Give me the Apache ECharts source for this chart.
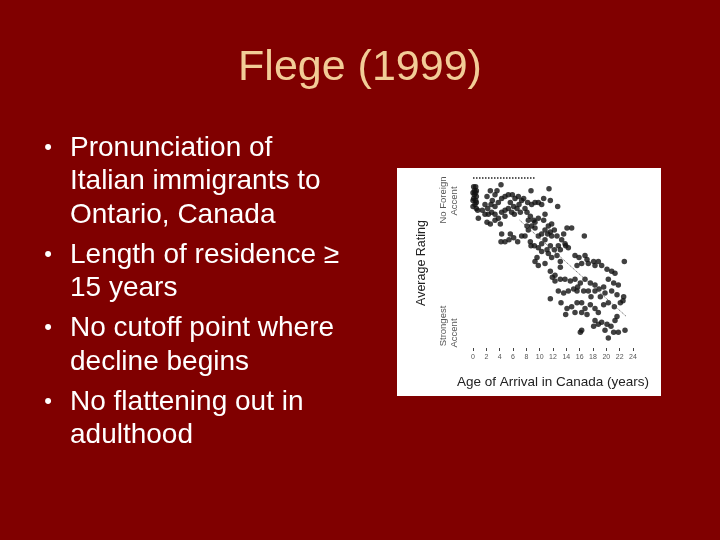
<!DOCTYPE html>
<html>
<head>
<meta charset="utf-8">
<script src="https://cdn.jsdelivr.net/npm/echarts@6/dist/echarts.min.js"></script>
<style>
  html, body { margin: 0; padding: 0; background: #800000; }
  #chart { width: 720px; height: 540px; }
</style>
</head>
<body>
<div id="chart"></div>
<script>
// slide text
var slideTitle = 'Flege (1999)';
var bullets = [
  ['Pronunciation of', 'Italian immigrants to', 'Ontario, Canada'],
  ['Length of residence \u2265', '15 years'],
  ['No cutoff point where', 'decline begins'],
  ['No flattening out in', 'adulthood']
];

// x axis ticks (age of arrival, years)
var ageTicks = [0, 2, 4, 6, 8, 10, 12, 14, 16, 18, 20, 22, 24];

// scatter: age of arrival vs average rating
var ages = [
  0.1, 0.4, 0.2, 0.5, 0.0, 0.4, 0.2, 0.5, 0.1, 0.4, 0.0, 0.5, 0.3, 0.5, 0.0, 0.7, 0.8,
  2.1, 2.6, 3.3, 4.2, 3.6, 2.9, 1.8, 2.2, 2.7, 3.3, 3.8, 4.3, 4.8, 5.3, 5.9, 6.3, 6.8, 7.3, 7.6,
  8.7, 8.2, 8.8, 9.3, 9.8, 10.3, 10.6, 11.4, 11.6, 12.7,
  2.1, 2.6, 3.3, 3.8, 4.3, 4.8, 5.3, 5.8, 6.1, 6.6, 7.1, 3.3, 4.1, 2.8, 2.3, 1.4, 1.8, 5.6, 6.2, 4.8,
  6.9, 7.8, 8.1, 8.6, 9.1, 8.3, 9.3, 9.8, 10.6, 10.8, 8.8, 9.3, 8.3, 8.1, 11.3, 11.8, 12.2, 10.8, 10.3, 9.8,
  4.2, 4.8, 5.4, 6.1, 6.7, 7.3, 7.8, 5.6, 4.3,
  8.6, 9.2, 8.7, 9.8, 10.3, 10.8, 11.2, 11.6, 11.8, 12.6, 13.3, 13.8, 14.1, 14.8, 13.6, 12.8, 12.2, 11.6,
  11.1, 10.3, 9.6, 9.3, 9.8, 10.8, 11.8, 12.6, 13.1, 13.9, 13.1, 14.3, 11.3,
  15.3, 15.9, 16.8, 17.1, 16.3, 15.6, 17.3, 18.1, 18.8, 18.3, 19.3, 20.1, 20.8, 21.3, 22.7, 16.7,
  11.6, 12.3, 13.1, 13.8, 14.6, 15.3, 16.1, 15.7, 15.1, 16.8, 17.6, 18.3, 18.9, 19.6, 20.3, 21.1, 21.8,
  12.8, 13.6, 14.3, 15.6, 16.6, 17.3, 18.3, 19.1, 19.8, 20.8, 21.6, 22.6,
  11.6, 13.2, 14.1, 14.8, 15.6, 16.3, 16.8, 17.6, 18.3, 18.8, 19.6, 20.3, 21.2, 22.1,
  13.9, 15.3, 16.3, 17.1, 18.3, 19.3, 20.1, 20.7, 21.3, 21.1, 19.8, 20.3, 21.8, 22.8,
  16.1, 16.3, 18.8, 18.1, 21.6, 22.5, 17.7, 13.1, 12.3, 11.9
];
var ratings = [
  8.9, 8.9, 8.7, 8.7, 8.6, 8.6, 8.5, 8.4, 8.3, 8.2, 8.2, 8.1, 8.0, 7.8, 7.9, 7.7, 7.3,
  8.4, 8.7, 8.5, 9.0, 8.7, 8.2, 8.0, 7.8, 8.0, 7.9, 8.1, 8.3, 8.4, 8.5, 8.5, 8.3, 8.4, 8.2, 8.3,
  8.7, 8.1, 8.0, 8.1, 8.1, 8.0, 8.3, 8.8, 8.2, 7.9,
  7.1, 7.0, 7.5, 7.3, 7.6, 7.7, 7.8, 7.6, 7.9, 7.8, 7.6, 7.2, 7.0, 7.6, 7.5, 7.7, 7.5, 8.1, 7.5, 7.4,
  8.0, 7.8, 7.6, 7.4, 7.2, 7.2, 7.1, 7.3, 7.2, 7.5, 6.9, 6.8, 6.7, 6.9, 6.9, 7.0, 6.7, 6.7, 6.5, 6.4,
  6.1, 6.1, 6.2, 6.3, 6.1, 6.4, 6.4, 6.5, 6.5,
  6.1, 5.9, 5.9, 5.8, 6.0, 6.2, 6.5, 6.6, 6.4, 6.4, 6.2, 6.0, 6.8, 6.8, 6.5, 5.9, 5.7, 5.9,
  5.7, 5.6, 5.3, 5.1, 4.9, 5.0, 5.3, 5.4, 5.1, 5.9, 5.7, 5.8, 5.5,
  5.4, 5.3, 5.4, 5.2, 5.0, 4.9, 5.0, 5.1, 5.1, 4.9, 4.9, 4.7, 4.6, 4.5, 5.1, 6.4,
  4.6, 4.4, 4.2, 4.2, 4.1, 4.2, 4.0, 3.8, 3.7, 4.2, 4.0, 3.9, 3.7, 3.8, 4.2, 4.0, 3.9,
  3.6, 3.5, 3.6, 3.6, 3.6, 3.6, 3.6, 3.3, 3.5, 3.6, 3.4, 3.3,
  3.2, 3.0, 2.7, 2.8, 3.0, 3.0, 2.7, 2.9, 2.7, 2.5, 2.9, 3.0, 2.8, 3.0,
  2.4, 2.5, 2.5, 2.4, 2.1, 2.0, 1.9, 1.8, 2.1, 1.5, 1.6, 1.2, 1.5, 1.6,
  1.5, 1.6, 1.9, 1.8, 2.3, 3.1, 3.3, 4.8, 4.1, 4.3
];

// dotted trend line and dotted top rule
var trendAges = [7, 23];
var trendRatings = [7.2, 2.3];
var topRuleAges = [0, 9.3];
var topRuleRating = 9.35;

var points = ages.map(function (a, i) { return [a, ratings[i]]; });
var trend = trendAges.map(function (a, i) { return [a, trendRatings[i]]; });
var topRule = topRuleAges.map(function (a) { return [a, topRuleRating]; });

var font = '"Liberation Sans", Arial, sans-serif';
var graphics = [];

// white picture box
graphics.push({
  type: 'rect', z: -1,
  shape: { x: 397, y: 168, width: 264, height: 228 },
  style: { fill: '#ffffff' }
});

graphics.push({
  type: 'text', x: 360, y: 68,
  style: { text: slideTitle, fill: '#f2cc97', font: '43px ' + font, textAlign: 'center', textVerticalAlign: 'middle' }
});

var bulletY = [[148, 181, 215], [255, 288], [328, 362], [402, 435]];
bullets.forEach(function (lines, b) {
  graphics.push({
    type: 'text', x: 48, y: bulletY[b][0],
    style: { text: '\u2022', fill: '#ffffff', font: '22px ' + font, textAlign: 'center', textVerticalAlign: 'middle' }
  });
  lines.forEach(function (t, j) {
    graphics.push({
      type: 'text', x: 70, y: bulletY[b][j],
      style: { text: t, fill: '#ffffff', font: '28px ' + font, textAlign: 'left', textVerticalAlign: 'middle' }
    });
  });
});

// axis captions inside the picture
function vtext(str, x, y, size, color) {
  return {
    type: 'text', x: x, y: y, rotation: Math.PI / 2, z: 10,
    style: { text: str, fill: color, font: size + 'px ' + font, textAlign: 'center', textVerticalAlign: 'middle' }
  };
}
graphics.push(vtext('Average Rating', 422, 263, 12.5, '#222'));
graphics.push(vtext('No Foreign', 443, 200, 9.5, '#555'));
graphics.push(vtext('Accent', 454, 201, 9.5, '#555'));
graphics.push(vtext('Strongest', 443, 326, 9.5, '#555'));
graphics.push(vtext('Accent', 454, 333, 9.5, '#555'));
graphics.push({
  type: 'text', x: 553, y: 382, z: 10,
  style: { text: 'Age of Arrival in Canada (years)', fill: '#222', font: '13.5px ' + font, textAlign: 'center', textVerticalAlign: 'middle' }
});

var chart = echarts.init(document.getElementById('chart'));
chart.setOption({
  backgroundColor: '#800000',
  animation: false,
  grid: { left: 473, top: 175, width: 160, height: 167 },
  xAxis: {
    type: 'value', min: ageTicks[0], max: ageTicks[ageTicks.length - 1], interval: 2,
    offset: 6,
    splitLine: { show: false },
    axisLine: { show: false },
    axisTick: { show: true, length: 3, lineStyle: { color: '#444', width: 1 } },
    axisLabel: { fontSize: 7, color: '#555', margin: 6, fontFamily: font }
  },
  yAxis: {
    type: 'value', min: 1, max: 9.5, show: false
  },
  graphic: graphics,
  series: [
    {
      type: 'scatter', data: points, symbolSize: 5.5, silent: true,
      itemStyle: { color: '#111' }
    },
    {
      type: 'line', data: trend, symbol: 'none', silent: true,
      lineStyle: { color: '#555', width: 1, type: 'dotted' }
    },
    {
      type: 'line', data: topRule, symbol: 'none', silent: true,
      lineStyle: { color: '#222', width: 1.5, type: 'dotted' }
    }
  ]
});
</script>
</body>
</html>
